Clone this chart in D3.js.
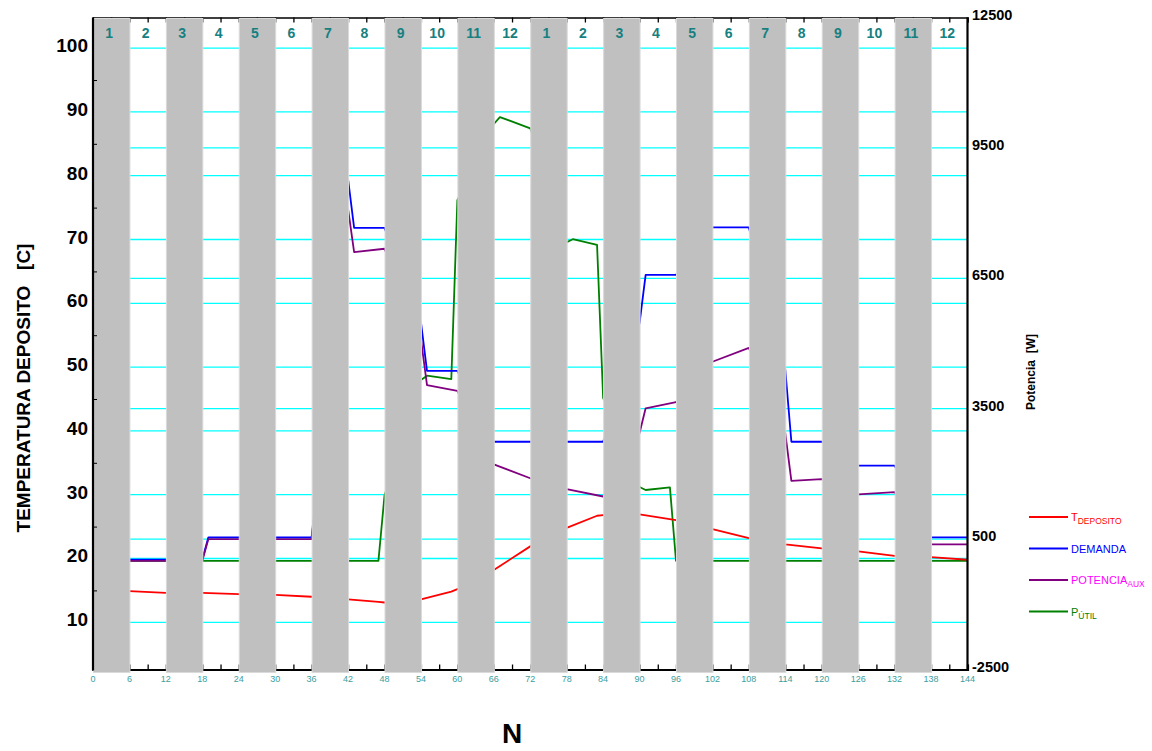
<!doctype html>
<html>
<head>
    <meta charset="utf-8">
    <title>Temperatura deposito / Potencia</title>
    <script src="https://d3js.org/d3.v7.min.js"></script>
    <style>
        body { margin: 0; background: #fff; }
        svg { font-family: "Liberation Sans", Arial, sans-serif; }
    </style>
</head>
<body>
<script>
// month labels along the top (two years)
const months = ["1","2","3","4","5","6","7","8","9","10","11","12",
                "1","2","3","4","5","6","7","8","9","10","11","12"];
// bottom axis labels
const nTicks = [0,6,12,18,24,30,36,42,48,54,60,66,72,78,84,90,96,102,108,114,120,126,132,138,144];
const tempTicks = [10,20,30,40,50,60,70,80,90,100];
const powerTicks = [-2500,500,3500,6500,9500,12500];

// series: [N, value]  (temperature in C, power in W)
const tDeposito = [[6,14.9],[12,14.6],[18,14.6],[24,14.4],[30,14.3],[36,14.0],[42,13.6],[47,13.2],[48,13.1],
    [54,13.6],[59,14.8],[60,15.2],[66,18.2],[72,21.9],[78,24.8],[83,26.7],[84,26.8],[90,26.9],[96,26.0],
    [102,24.6],[108,23.2],[114,22.2],[120,21.6],[126,21.1],[132,20.4],[138,20.2],[144,19.8]];
const demanda = [[6,30],[12,30],[18,30],[19,540],[24,540],[30,540],[36,540],[42,8780],[43,7660],[48,7660],
    [54,5490],[55,4370],[60,4370],[66,2740],[72,2740],[78,2740],[84,2740],[90,5470],[91,6580],[96,6580],
    [102,7670],[108,7670],[114,4390],[115,2740],[120,2740],[126,2190],[132,2190],[138,540],[144,540]];
const potenciaAux = [[6,0],[12,0],[18,0],[19,500],[24,500],[30,500],[36,500],[42,8100],[43,7100],[48,7180],
    [54,5100],[55,4040],[60,3910],[66,2220],[72,1900],[78,1650],[84,1480],[90,2940],[91,3510],[96,3650],
    [102,4580],[108,4900],[114,2930],[115,1840],[120,1880],[126,1530],[132,1580],[138,380],[144,380]];
const pUtil = [[6,0],[12,0],[18,0],[24,0],[30,0],[36,0],[42,0],[47,0],[48,1500],[54,4160],[55,4260],
    [59,4180],[60,8300],[66,10050],[67,10210],[72,9950],[78,7330],[79,7400],[83,7270],[84,3750],[90,1700],
    [91,1630],[95,1690],[96,0],[102,0],[108,0],[114,0],[120,0],[126,0],[132,0],[138,0],[144,0]];

const w = 1152, h = 751;
const pLeft = 93, pRight = 967.5, pTop = 17.5, pBottom = 669.5;

const svg = d3.select("body").append("svg")
    .attr("width", w)
    .attr("height", h);

const x = d3.scaleLinear().domain([0, 144]).range([pLeft, pRight]);
const yT = d3.scaleLinear().domain([2.6, 104.8]).range([pBottom, pTop]);
const yP = d3.scaleLinear().domain([-2500, 12500]).range([pBottom, pTop]);

// grid lines from both axes
svg.append("g").selectAll("line")
    .data(tempTicks.map(yT).concat(powerTicks.slice(1, -1).map(yP)))
    .enter().append("line")
    .attr("x1", pLeft).attr("x2", pRight)
    .attr("y1", d => d).attr("y2", d => d)
    .attr("stroke", "#00ffff")
    .attr("stroke-width", 1.3);

// top and bottom frame with inner ticks every 3
const bottomAxis = d3.axisBottom(x).tickValues(d3.range(0, 145, 3)).tickSize(-5).tickFormat("");
const topAxis = d3.axisTop(x).tickValues(d3.range(0, 145, 3)).tickSize(-5).tickFormat("");
svg.append("g").attr("transform", "translate(0," + pBottom + ")").call(bottomAxis)
    .call(g => g.select(".domain").attr("stroke-width", 2.2))
    .call(g => g.selectAll(".tick line").attr("stroke-width", 1.3));
svg.append("g").attr("transform", "translate(0," + pTop + ")").call(topAxis)
    .call(g => g.select(".domain").attr("stroke-width", 1.5))
    .call(g => g.selectAll(".tick line").attr("stroke-width", 1.3));

// series
const lineT = d3.line().x(d => x(d[0])).y(d => yT(d[1]));
const lineP = d3.line().x(d => x(d[0])).y(d => yP(d[1]));
const series = [
    {data: pUtil, line: lineP, color: "#008000"},
    {data: demanda, line: lineP, color: "#0000ff"},
    {data: potenciaAux, line: lineP, color: "#800080"},
    {data: tDeposito, line: lineT, color: "#ff0000"}
];
svg.append("g").selectAll("path")
    .data(series)
    .enter().append("path")
    .attr("d", d => d.line(d.data))
    .attr("fill", "none")
    .attr("stroke", d => d.color)
    .attr("stroke-width", 1.8)
    .attr("stroke-linejoin", "round");

// gray bands over odd months
svg.append("g").selectAll("rect")
    .data(months.map((m, i) => i).filter(i => i % 2 === 0))
    .enter().append("rect")
    .attr("x", i => x(i * 6) + 0.5)
    .attr("y", pTop + 1)
    .attr("width", i => x(i * 6 + 6) - x(i * 6))
    .attr("height", pBottom - pTop + 2)
    .attr("fill", "#c0c0c0")
    .attr("stroke", "#dadada")
    .attr("stroke-width", 1);

// left axis: minor ticks at the 5s
const leftAxis = d3.axisRight(yT).tickValues(d3.range(15, 101, 10)).tickSize(4).tickFormat("");
svg.append("g").attr("transform", "translate(" + pLeft + ",0)").call(leftAxis)
    .call(g => g.select(".domain").remove());
svg.append("line")
    .attr("x1", pLeft).attr("x2", pLeft).attr("y1", pTop).attr("y2", pBottom + 1)
    .attr("stroke", "#000").attr("stroke-width", 2.2);
svg.append("line")
    .attr("x1", pRight).attr("x2", pRight).attr("y1", pTop).attr("y2", pBottom + 1)
    .attr("stroke", "#000").attr("stroke-width", 2.2);

// tick labels
svg.append("g").selectAll("text")
    .data(tempTicks)
    .enter().append("text")
    .attr("x", 88)
    .attr("y", d => yT(d) + 4)
    .attr("text-anchor", "end")
    .style("font-size", "19px")
    .style("font-weight", "bold")
    .text(d => d);

svg.append("g").selectAll("text")
    .data(powerTicks)
    .enter().append("text")
    .attr("x", 972)
    .attr("y", d => yP(d) + 2)
    .style("font-size", "14.5px")
    .style("font-weight", "bold")
    .text(d => d);

svg.append("g").selectAll("text")
    .data(nTicks)
    .enter().append("text")
    .attr("x", d => x(d))
    .attr("y", 682)
    .attr("text-anchor", "middle")
    .style("font-size", "9px")
    .style("fill", "#3c9e9e")
    .text(d => d);

svg.append("g").selectAll("text")
    .data(months)
    .enter().append("text")
    .attr("x", (d, i) => x(i * 6 + 3) - 2)
    .attr("y", 38)
    .attr("text-anchor", "middle")
    .style("font-size", "14px")
    .style("font-weight", "bold")
    .style("fill", "#168080")
    .text(d => d);

// axis titles
svg.append("text")
    .attr("transform", "translate(30,388) rotate(-90)")
    .attr("text-anchor", "middle")
    .style("font-size", "19px")
    .style("font-weight", "bold")
    .style("white-space", "pre")
    .text("TEMPERATURA DEPOSITO   [C]");

svg.append("text")
    .attr("transform", "translate(1035,372) rotate(-90)")
    .attr("text-anchor", "middle")
    .style("font-size", "12px")
    .style("font-weight", "bold")
    .style("white-space", "pre")
    .text("Potencia  [W]");

svg.append("text")
    .attr("x", 512)
    .attr("y", 743)
    .attr("text-anchor", "middle")
    .style("font-size", "28px")
    .style("font-weight", "bold")
    .text("N");

// legend
const legend = [
    {name: "T", sub: "DEPOSITO", line: "#ff0000", text: "#ff0000"},
    {name: "DEMANDA", sub: "", line: "#0000ff", text: "#0000ff"},
    {name: "POTENCIA", sub: "AUX", line: "#800080", text: "#ff00ff"},
    {name: "P", sub: "ÚTIL", line: "#008000", text: "#008000"}
];
const lg = svg.append("g").selectAll("g")
    .data(legend)
    .enter().append("g")
    .attr("transform", (d, i) => "translate(1029," + (517 + i * 31.5) + ")");
lg.append("line")
    .attr("x1", 0).attr("x2", 39)
    .attr("stroke", d => d.line)
    .attr("stroke-width", 1.8);
const lt = lg.append("text")
    .attr("x", 42)
    .attr("y", 4)
    .style("font-size", "11px")
    .style("fill", d => d.text);
lt.append("tspan").text(d => d.name);
lt.append("tspan")
    .attr("dy", 3)
    .style("font-size", "8.5px")
    .text(d => d.sub);
</script>
</body>
</html>
